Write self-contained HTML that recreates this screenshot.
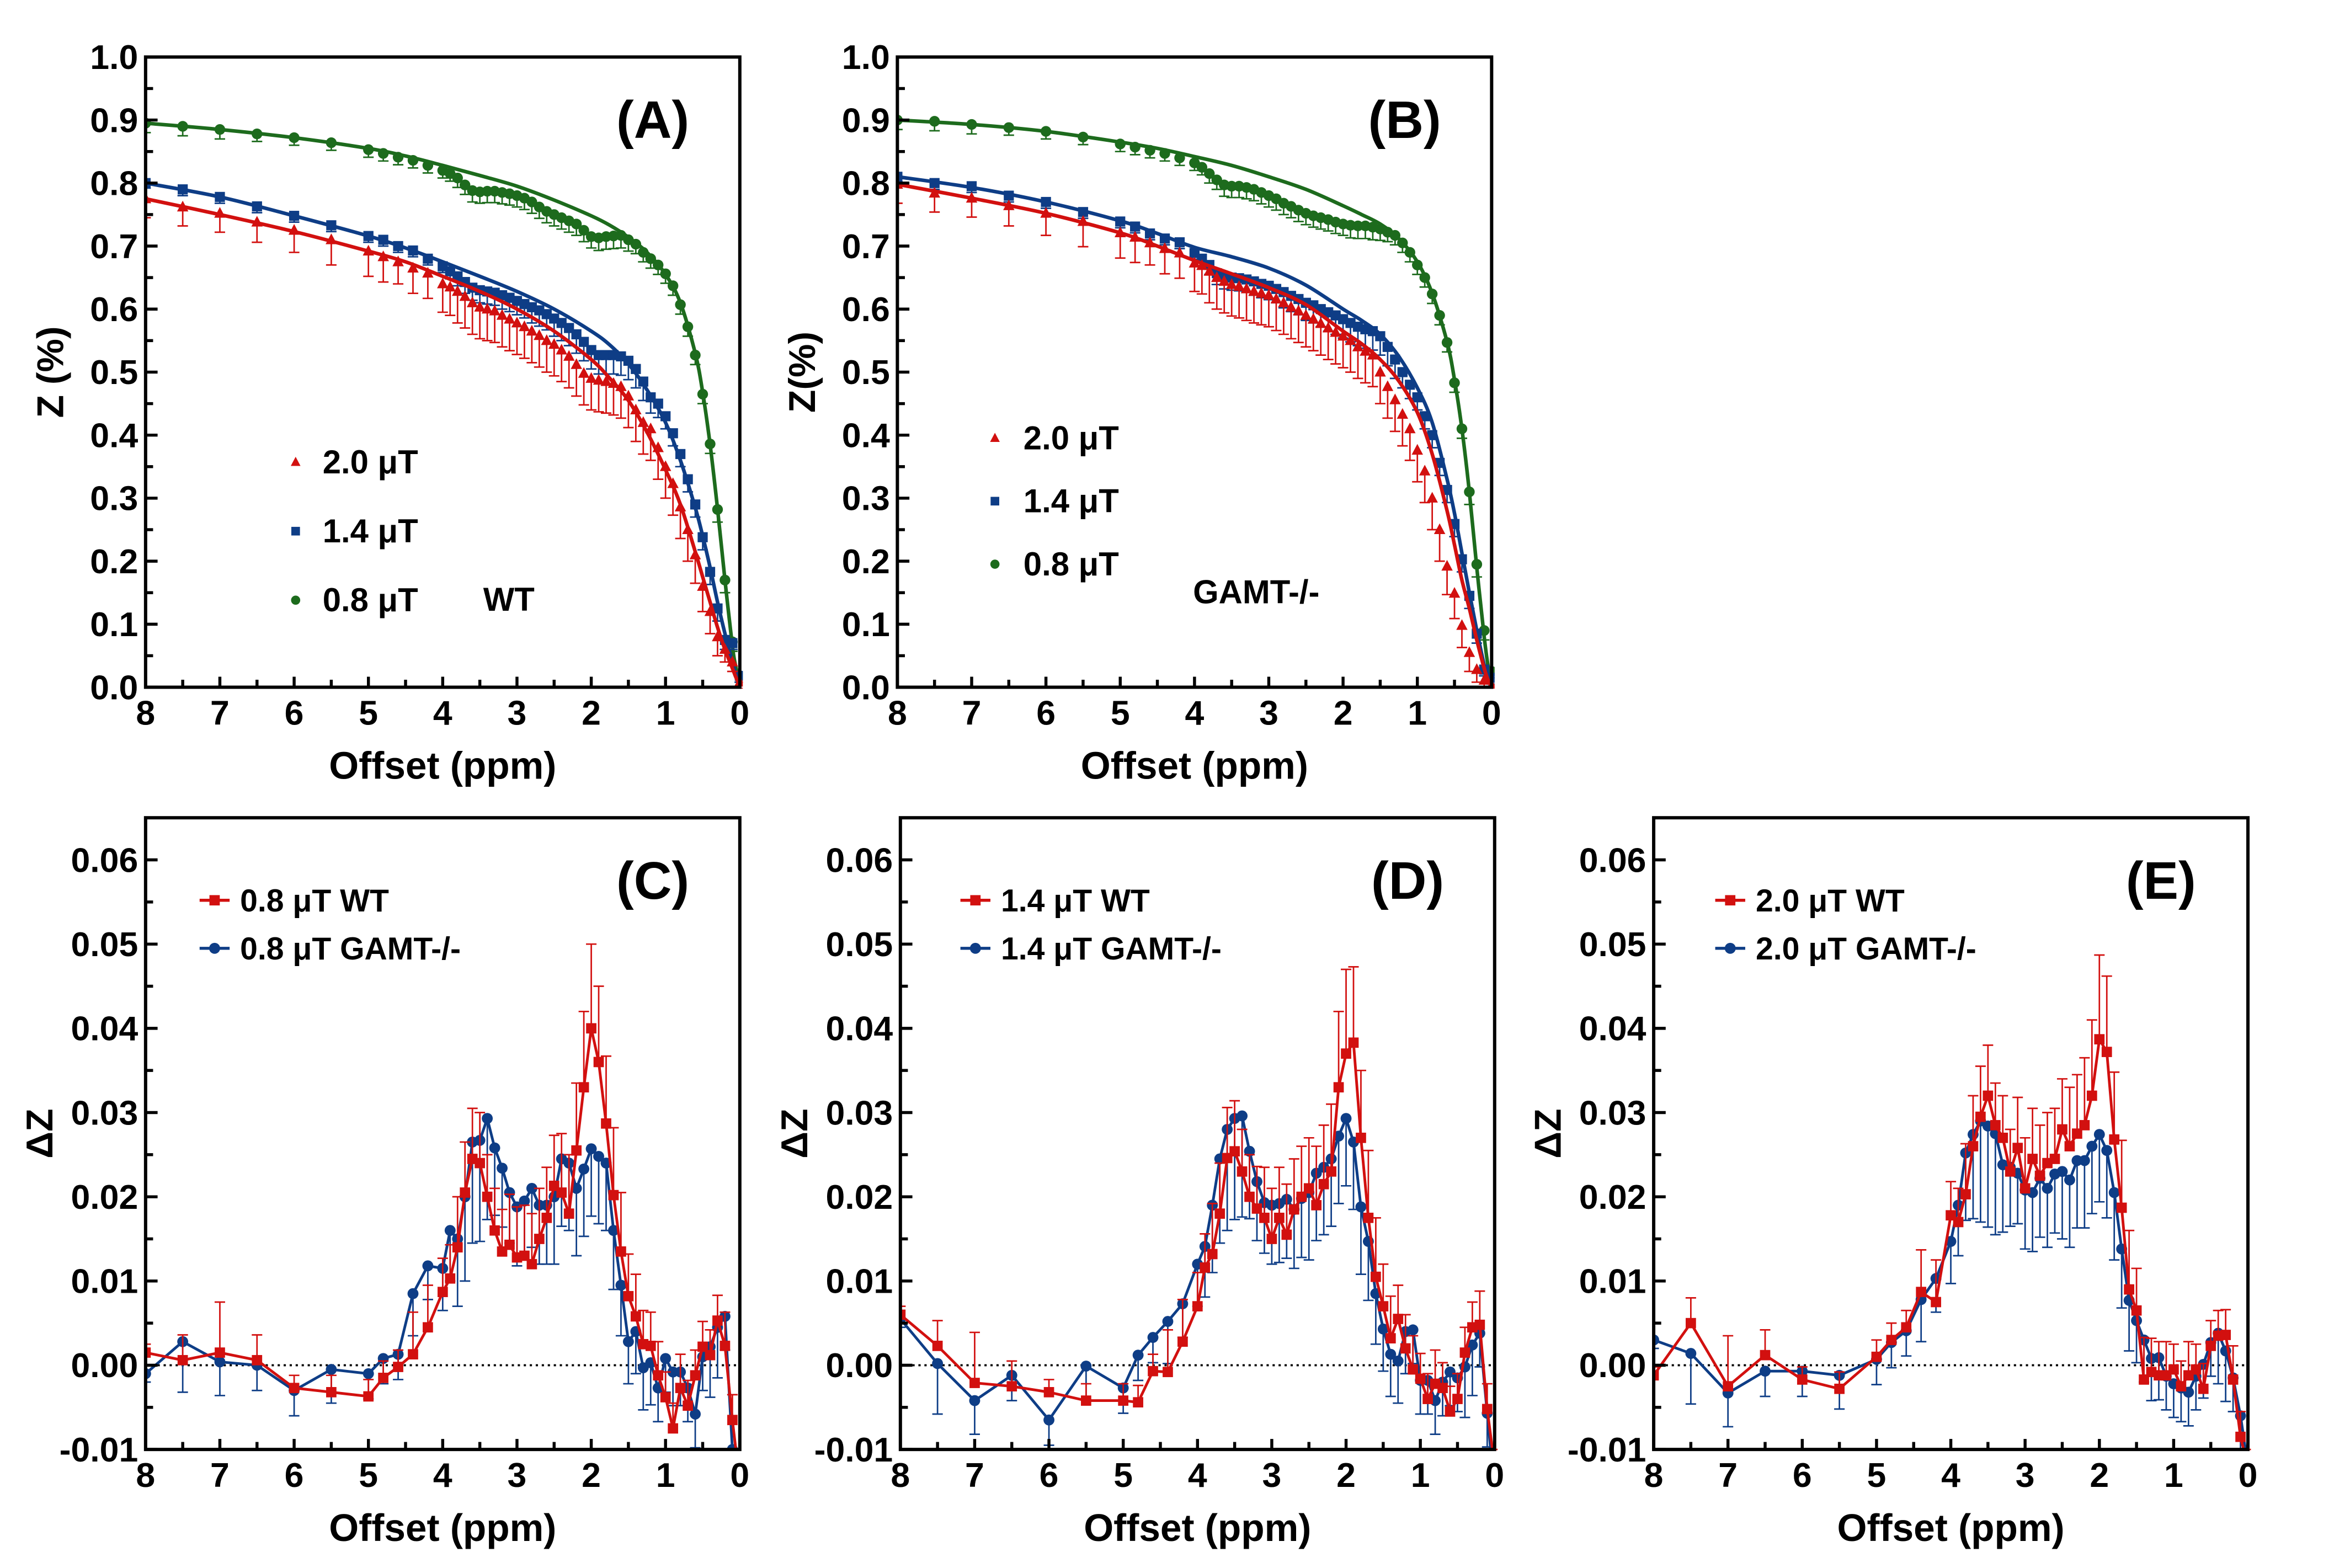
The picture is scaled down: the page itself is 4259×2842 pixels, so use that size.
<!DOCTYPE html>
<html><head><meta charset="utf-8"><style>
html,body{margin:0;padding:0;background:#fff}
svg{display:block}
text{font-family:"Liberation Sans",Arial,sans-serif;font-weight:bold;fill:#000}
</style></head><body>
<svg id="fig" xmlns="http://www.w3.org/2000/svg" width="4259" height="2842" viewBox="0 0 1566 1045"></svg>
<script>
// ---------- DATA ----------
const offsets = [8,7.5,7,6.5,6,5.5,5,4.8,4.6,4.4,4.2,4.0,3.9,3.8,3.7,3.6,3.5,3.4,3.3,3.2,3.1,3.0,2.9,2.8,2.7,2.6,2.5,2.4,2.3,2.2,2.1,2.0,1.9,1.8,1.7,1.6,1.5,1.4,1.3,1.2,1.1,1.0,0.9,0.8,0.7,0.6,0.5,0.4,0.3,0.2,0.1,0];
const fitOffsets = [8,7,6,5,4.5,4,3.5,3,2.5,2,1.75,1.5,1.25,1,0.8,0.6,0.5,0.4,0.3,0.2,0.1,0.05,0];

const aGreen = [0.895,0.89,0.885,0.878,0.872,0.864,0.853,0.847,0.841,0.836,0.828,0.82,0.815,0.808,0.797,0.788,0.786,0.787,0.787,0.785,0.783,0.78,0.776,0.77,0.762,0.755,0.75,0.745,0.74,0.735,0.725,0.715,0.713,0.715,0.716,0.717,0.71,0.703,0.69,0.68,0.67,0.656,0.637,0.607,0.572,0.527,0.465,0.386,0.282,0.17,0.072,0.018];
const aBlue = [0.80,0.79,0.778,0.763,0.748,0.733,0.716,0.71,0.70,0.693,0.68,0.668,0.66,0.652,0.643,0.634,0.63,0.628,0.626,0.622,0.618,0.613,0.608,0.603,0.598,0.592,0.585,0.578,0.57,0.56,0.548,0.535,0.527,0.527,0.527,0.525,0.518,0.505,0.485,0.46,0.45,0.43,0.403,0.37,0.33,0.29,0.238,0.183,0.125,0.075,0.07,0.018];
const aRed = [0.775,0.762,0.752,0.738,0.725,0.71,0.692,0.683,0.675,0.665,0.657,0.64,0.635,0.628,0.62,0.61,0.603,0.60,0.597,0.59,0.584,0.578,0.572,0.565,0.558,0.55,0.544,0.535,0.525,0.512,0.498,0.49,0.487,0.485,0.482,0.477,0.462,0.44,0.42,0.41,0.38,0.35,0.323,0.286,0.25,0.21,0.16,0.12,0.08,0.06,0.04,0.008];
const aGreenFit = [0.895,0.885,0.872,0.855,0.843,0.828,0.812,0.795,0.773,0.748,0.733,0.714,0.69,0.655,0.61,0.53,0.468,0.385,0.283,0.17,0.065,0.03,0.005];
const aBlueFit = [0.80,0.778,0.748,0.716,0.697,0.675,0.652,0.628,0.60,0.565,0.543,0.513,0.472,0.42,0.36,0.285,0.24,0.19,0.135,0.085,0.04,0.02,0.005];
const aRedFit = [0.775,0.75,0.723,0.692,0.675,0.652,0.628,0.60,0.565,0.52,0.49,0.455,0.405,0.345,0.29,0.215,0.175,0.135,0.095,0.06,0.03,0.015,0.003];

const bGreen = [0.90,0.898,0.893,0.888,0.882,0.873,0.862,0.857,0.852,0.847,0.84,0.832,0.825,0.815,0.805,0.797,0.795,0.795,0.793,0.79,0.785,0.78,0.775,0.768,0.763,0.757,0.752,0.748,0.745,0.742,0.738,0.735,0.733,0.732,0.732,0.73,0.727,0.722,0.717,0.705,0.69,0.67,0.65,0.624,0.59,0.547,0.483,0.41,0.31,0.195,0.09,0.025];
const bBlue = [0.81,0.80,0.795,0.78,0.77,0.754,0.739,0.731,0.72,0.712,0.706,0.689,0.68,0.67,0.657,0.652,0.65,0.649,0.647,0.644,0.64,0.637,0.632,0.627,0.621,0.616,0.61,0.606,0.60,0.595,0.59,0.584,0.578,0.572,0.568,0.565,0.557,0.54,0.52,0.50,0.48,0.46,0.43,0.40,0.356,0.313,0.259,0.203,0.145,0.085,0.028,0.015];
const bRed = [0.798,0.784,0.776,0.764,0.752,0.739,0.721,0.714,0.705,0.696,0.689,0.673,0.669,0.66,0.65,0.644,0.639,0.636,0.632,0.628,0.625,0.622,0.616,0.61,0.603,0.597,0.59,0.584,0.577,0.57,0.563,0.557,0.55,0.54,0.533,0.527,0.50,0.477,0.456,0.433,0.41,0.376,0.343,0.30,0.25,0.192,0.149,0.098,0.055,0.028,0.011,0.003];
const bGreenFit = [0.90,0.893,0.882,0.865,0.855,0.842,0.828,0.81,0.79,0.764,0.75,0.735,0.712,0.675,0.625,0.548,0.488,0.41,0.31,0.19,0.08,0.035,0.005];
const bBlueFit = [0.81,0.793,0.77,0.74,0.72,0.698,0.683,0.665,0.638,0.60,0.582,0.56,0.525,0.475,0.42,0.33,0.276,0.213,0.15,0.09,0.035,0.015,0.003];
const bRedFit = [0.798,0.776,0.752,0.721,0.70,0.677,0.656,0.634,0.607,0.565,0.545,0.52,0.486,0.436,0.37,0.28,0.226,0.17,0.125,0.075,0.03,0.012,0.002];

const errRedTop = [0.03,0.03,0.03,0.032,0.035,0.04,0.04,0.04,0.035,0.04,0.04,0.045,0.045,0.05,0.05,0.05,0.05,0.05,0.05,0.05,0.05,0.05,0.05,0.05,0.05,0.05,0.05,0.05,0.05,0.05,0.05,0.05,0.05,0.05,0.05,0.05,0.05,0.05,0.05,0.05,0.05,0.05,0.05,0.05,0.05,0.045,0.04,0.035,0.03,0.02,0.015,0.01];
const errBlueTop = [0.008,0.01,0.01,0.01,0.01,0.01,0.01,0.01,0.01,0.01,0.01,0.01,0.012,0.015,0.018,0.02,0.02,0.02,0.02,0.022,0.022,0.022,0.022,0.025,0.025,0.025,0.028,0.028,0.028,0.03,0.03,0.03,0.03,0.03,0.03,0.03,0.03,0.03,0.03,0.025,0.022,0.02,0.02,0.02,0.02,0.02,0.02,0.02,0.02,0.015,0.01,0.01];
const errGreenTop = [0.015,0.015,0.015,0.012,0.012,0.012,0.012,0.012,0.012,0.012,0.012,0.012,0.012,0.015,0.015,0.018,0.018,0.018,0.018,0.018,0.018,0.018,0.018,0.018,0.018,0.018,0.018,0.018,0.018,0.018,0.018,0.018,0.02,0.02,0.02,0.02,0.018,0.015,0.015,0.015,0.015,0.015,0.015,0.015,0.015,0.015,0.015,0.015,0.02,0.02,0.015,0.01];

const cWT = [0.0015,0.0006,0.0015,0.0006,-0.0027,-0.0032,-0.0037,-0.0015,-0.0002,0.0013,0.0045,0.0087,0.0103,0.014,0.0205,0.0245,0.024,0.020,0.016,0.0135,0.0143,0.0128,0.013,0.012,0.015,0.0175,0.0213,0.0205,0.018,0.0255,0.033,0.040,0.036,0.0287,0.0202,0.0135,0.0082,0.0058,0.0025,0.0023,-0.0012,-0.0038,-0.0075,-0.0027,-0.0048,-0.0012,0.0022,0.0012,0.0053,0.0023,-0.0065,-0.014];
const cKO = [-0.001,0.0028,0.0004,0.0,-0.003,-0.0005,-0.001,0.0008,0.0013,0.0085,0.0118,0.0115,0.016,0.015,0.020,0.0265,0.0267,0.0293,0.0258,0.0234,0.0205,0.0188,0.0195,0.021,0.019,0.019,0.020,0.0245,0.024,0.021,0.0233,0.0257,0.0248,0.024,0.016,0.0095,0.0028,0.004,-0.0003,0.0003,-0.0027,0.0008,-0.0008,-0.0008,-0.0027,-0.0058,0.001,0.0022,0.0045,0.0058,-0.01,-0.02];
const dWT = [0.006,0.0023,-0.0021,-0.0025,-0.0032,-0.0042,-0.0042,-0.0044,-0.0007,-0.0008,0.0028,0.007,0.0116,0.0132,0.018,0.0246,0.0254,0.023,0.020,0.0186,0.0175,0.015,0.0175,0.0155,0.0185,0.020,0.021,0.019,0.0215,0.023,0.033,0.037,0.0383,0.027,0.0175,0.0105,0.007,0.0032,0.0055,0.002,-0.0005,-0.0016,-0.004,-0.0022,-0.0027,-0.0055,-0.004,0.0015,0.0045,0.0048,-0.0052,-0.012];
const dKO = [0.0055,0.0002,-0.0042,-0.0012,-0.0065,-0.0001,-0.0027,0.0012,0.0033,0.0052,0.0073,0.012,0.0141,0.019,0.0245,0.028,0.0293,0.0296,0.0254,0.0218,0.0193,0.019,0.0192,0.0197,0.0185,0.0198,0.0205,0.0228,0.0235,0.0245,0.0272,0.0293,0.0265,0.0188,0.0147,0.0085,0.0043,0.0013,0.0005,0.004,0.0042,-0.0018,-0.0018,-0.0042,-0.002,-0.0008,-0.0015,-0.0002,0.0024,0.0038,-0.0057,-0.015];
const eWT = [-0.0012,0.005,-0.0025,0.0012,-0.0017,-0.0028,0.001,0.003,0.0045,0.0087,0.0075,0.0178,0.017,0.0203,0.026,0.0295,0.032,0.0285,0.027,0.023,0.0258,0.021,0.0245,0.0225,0.024,0.0245,0.028,0.026,0.0275,0.0285,0.032,0.0387,0.0372,0.0268,0.0187,0.009,0.0065,-0.0017,-0.0008,-0.0012,-0.0012,-0.0005,-0.0025,-0.0012,-0.0005,-0.0028,0.0023,0.0035,0.0036,-0.0017,-0.0085,-0.012];
const eKO = [0.003,0.0014,-0.0033,-0.0007,-0.0007,-0.0012,0.0007,0.0027,0.0041,0.0078,0.0103,0.0147,0.019,0.0252,0.0274,0.029,0.0284,0.0275,0.0238,0.0235,0.0228,0.0208,0.0205,0.0222,0.021,0.0227,0.023,0.022,0.0243,0.0243,0.026,0.0274,0.0255,0.0205,0.0138,0.0077,0.0053,0.003,0.0008,0.0009,-0.0013,-0.0022,-0.0027,-0.0032,-0.0013,0.0001,0.0027,0.0038,0.0017,-0.0015,-0.006,-0.012];
const errWT = [0.001,0.003,0.006,0.003,0.0015,0.002,0.002,0.002,0.002,0.005,0.005,0.004,0.004,0.006,0.006,0.006,0.006,0.005,0.005,0.005,0.006,0.006,0.006,0.006,0.006,0.006,0.006,0.007,0.007,0.008,0.009,0.010,0.009,0.008,0.008,0.007,0.005,0.005,0.004,0.004,0.004,0.003,0.003,0.004,0.003,0.003,0.003,0.003,0.003,0.004,0.003,0.002];
const errKO = [0.001,0.006,0.004,0.003,0.003,0.004,0.003,0.003,0.003,0.005,0.004,0.005,0.006,0.008,0.01,0.012,0.012,0.012,0.008,0.007,0.006,0.007,0.007,0.007,0.007,0.007,0.008,0.008,0.008,0.008,0.008,0.008,0.008,0.008,0.007,0.006,0.005,0.005,0.005,0.005,0.004,0.004,0.004,0.004,0.004,0.004,0.004,0.006,0.006,0.004,0.004,0.002];

const xTicks = [8,7,6,5,4,3,2,1,0];
const yTicksTop = [0,0.1,0.2,0.3,0.4,0.5,0.6,0.7,0.8,0.9,1.0];
const yTicksBot = [-0.01,0,0.01,0.02,0.03,0.04,0.05,0.06];
const yTickLabelsBot = ["-0.01","0.00","0.01","0.02","0.03","0.04","0.05","0.06"];

// ---------- DRAWING ----------
const NS = "http://www.w3.org/2000/svg";
const svg = document.getElementById('fig');
const RED = "#d2100f", BLUE = "#0e3d86", GREEN = "#1d6b1d";
function mk(tag, attrs, parent){ const e=document.createElementNS(NS,tag); for(const k in attrs) e.setAttribute(k,attrs[k]); (parent||svg).appendChild(e); return e; }
function txt(s, attrs, parent){ const t=mk('text',attrs,parent); t.textContent=s; return t; }

function makePanel(name, x0, y0, x1, y1, ymin, ymax){
  const g = mk('g',{});
  
  
  const sx = v => x0 + (8 - v) / 8 * (x1 - x0);
  const sy = v => y1 - (v - ymin) / (ymax - ymin) * (y1 - y0);
  return {g, sx, sy, x0, y0, x1, y1};
}

function drawAxes(p, yTicks, yLabels, yMinor, label, ytitle, ytitleX){
  const {g,sx,sy,x0,y0,x1,y1} = p;
  const frame = mk('rect',{x:x0,y:y0,width:x1-x0,height:y1-y0,fill:'none',stroke:'#000','stroke-width':2.2},g);
  
  
  for(let i=0;i<=16;i++){
    const v=i*0.5, x=sx(v), len = (i%2===0)?7:5;
    mk('line',{x1:x,y1:y1,x2:x,y2:y1-len,stroke:'#000','stroke-width':2},g);
  }
  xTicks.forEach(v=>{
    const t=txt(String(v),{x:sx(v),y:y1+25,'font-size':23,'text-anchor':'middle'},g);
    
    
  });
  yMinor.forEach(v=>{ mk('line',{x1:x0,y1:sy(v),x2:x0+5,y2:sy(v),stroke:'#000','stroke-width':2},g); });
  yTicks.forEach((v,i)=>{
    mk('line',{x1:x0,y1:sy(v),x2:x0+8,y2:sy(v),stroke:'#000','stroke-width':2},g);
    const t=txt(yLabels[i],{x:x0-5,y:sy(v)+8,'font-size':23,'text-anchor':'end'},g);
    
    
  });
  const xt=txt('Offset (ppm)',{x:(x0+x1)/2,y:y1+61,'font-size':25.5,'text-anchor':'middle'},g);
  
  
  const yc=(y0+y1)/2;
  const yt=txt(ytitle,{x:ytitleX,y:yc,'font-size':25,'text-anchor':'middle',transform:`rotate(-90 ${ytitleX} ${yc})`},g);
  
  
  const pl=txt(label,{x:x1-58,y:y0+54,'font-size':35,'text-anchor':'middle',fill:'#222'},g);
  
  
}

function marker(type, x, y, color, parent, s){
  let e;
  if(type==='tri') e=mk('polygon',{points:`${x},${y-s} ${x-s*0.9},${y+s*0.7} ${x+s*0.9},${y+s*0.7}`,fill:color},parent);
  else if(type==='sq') e=mk('rect',{x:x-s*0.8,y:y-s*0.8,width:s*1.6,height:s*1.6,fill:color},parent);
  else e=mk('circle',{cx:x,cy:y,r:s*0.85,fill:color},parent);
  
  
  return e;
}

function errBars(p, xs, ys, errs, dir, color){
  const g=mk('g',{},p.g);
  
  
  xs.forEach((v,i)=>{
    const x=p.sx(v), ya=p.sy(ys[i]), yb=p.sy(ys[i]+dir*errs[i]);
    mk('line',{x1:x,y1:ya,x2:x,y2:yb,stroke:color,'stroke-width':1},g);
    mk('line',{x1:x-3.5,y1:yb,x2:x+3.5,y2:yb,stroke:color,'stroke-width':1},g);
  });
}

function smoothPath(pts){
  let d=`M${pts[0][0]},${pts[0][1]}`;
  for(let i=0;i<pts.length-1;i++){
    const p0=pts[i-1]||pts[i], p1=pts[i], p2=pts[i+1], p3=pts[i+2]||p2;
    const c1=[p1[0]+(p2[0]-p0[0])/6, p1[1]+(p2[1]-p0[1])/6];
    const c2=[p2[0]-(p3[0]-p1[0])/6, p2[1]-(p3[1]-p1[1])/6];
    d+=` C${c1[0]},${c1[1]} ${c2[0]},${c2[1]} ${p2[0]},${p2[1]}`;
  }
  return d;
}

function clipFor(p, id){
  const cp=mk('clipPath',{id:id},p.g);
  mk('rect',{x:p.x0,y:p.y0-40,width:p.x1-p.x0+2,height:p.y1-p.y0+41},cp);
  return `url(#${id})`;
}

function topPanel(name,label,x0,ytitle,ytx,red,blue,green,redFit,blueFit,greenFit,leg){
  const p=makePanel(name,x0,38,x0+396,458,0,1);
  const clip=clipFor(p,'clip-'+name);
  const series=[[green,greenFit,errGreenTop,GREEN,'circ','series-0.8uT'],[blue,blueFit,errBlueTop,BLUE,'sq','series-1.4uT'],[red,redFit,errRedTop,RED,'tri','series-2.0uT']];
  series.forEach(([d,f,e,c,m,nm])=>{
    const sg=mk('g',{'clip-path':clip},p.g);
    
    
    errBars({g:sg,sx:p.sx,sy:p.sy},offsets,d,e,-1,c);
    offsets.forEach((v,i)=>marker(m,p.sx(v),p.sy(d[i]),c,sg,4.2));
    const fp=mk('path',{d:smoothPath(fitOffsets.map((v,i)=>[p.sx(v),p.sy(f[i])])),fill:'none',stroke:c,'stroke-width':2.4},sg);
    
    
  });
  drawAxes(p,yTicksTop,yTicksTop.map(v=>v.toFixed(1)),[0.05,0.15,0.25,0.35,0.45,0.55,0.65,0.75,0.85,0.95],label,ytitle,ytx);
  const lg=mk('g',{},p.g);
  
  
  [['tri',RED,'2.0 μT'],['sq',BLUE,'1.4 μT'],['circ',GREEN,'0.8 μT']].forEach(([m,c,s],i)=>{
    const y=leg.y+i*leg.dy;
    marker(m,leg.mx,y,c,lg,3.6);
    const t=txt(s,{x:leg.tx,y:y+7.5,'font-size':22},lg);
    
    
  });
  const gl=txt(leg.group,{x:leg.gx,y:leg.gy,'font-size':22},lg);
  
  
}

function botPanel(name,label,x0,wt,ko,field,legX){
  const p=makePanel(name,x0,545,x0+396,966,-0.01,0.065);
  const zl=mk('line',{x1:p.x0,y1:p.sy(0),x2:p.x1,y2:p.sy(0),stroke:'#000','stroke-width':1.4,'stroke-dasharray':'1.5,2.5'},p.g);
  
  
  const clip=clipFor(p,'clip-'+name);
  [[ko,errKO,-1,BLUE,'circ','series-gamt'],[wt,errWT,1,RED,'sq','series-wt']].forEach(([d,e,dir,c,m,nm])=>{
    const sg=mk('g',{'clip-path':clip},p.g);
    
    
    errBars({g:sg,sx:p.sx,sy:p.sy},offsets,d,e,dir,c);
    const ln=mk('polyline',{points:offsets.map((v,i)=>`${p.sx(v)},${p.sy(d[i])}`).join(' '),fill:'none',stroke:c,'stroke-width':1.8},sg);
    
    
    offsets.forEach((v,i)=>marker(m,p.sx(v),p.sy(d[i]),c,sg,4.3));
  });
  drawAxes(p,yTicksBot,yTickLabelsBot,[-0.005,0.005,0.015,0.025,0.035,0.045,0.055],label,'ΔZ',p.x0-62);
  const lg=mk('g',{},p.g);
  
  
  [[RED,'sq',field+' WT',600],[BLUE,'circ',field+' GAMT-/-',632]].forEach(([c,m,s,y])=>{
    mk('line',{x1:legX,y1:y,x2:legX+20,y2:y,stroke:c,'stroke-width':2},lg);
    marker(m,legX+10,y,c,lg,4.3);
    const t=txt(s,{x:legX+27,y:y+7.5,'font-size':21},lg);
    
    
  });
}

topPanel('a','(A)',97,'Z (%)',42,aRed,aBlue,aGreen,aRedFit,aBlueFit,aGreenFit,{mx:197,tx:215,y:308,dy:46,group:'WT',gx:322,gy:407});
topPanel('b','(B)',598,'Z(%)',543,bRed,bBlue,bGreen,bRedFit,bBlueFit,bGreenFit,{mx:663,tx:682,y:292,dy:42,group:'GAMT-/-',gx:795,gy:402});
botPanel('c','(C)',97,cWT,cKO,'0.8 μT',133);
botPanel('d','(D)',600,dWT,dKO,'1.4 μT',640);
botPanel('e','(E)',1102,eWT,eKO,'2.0 μT',1143);
</script>
</body></html>
